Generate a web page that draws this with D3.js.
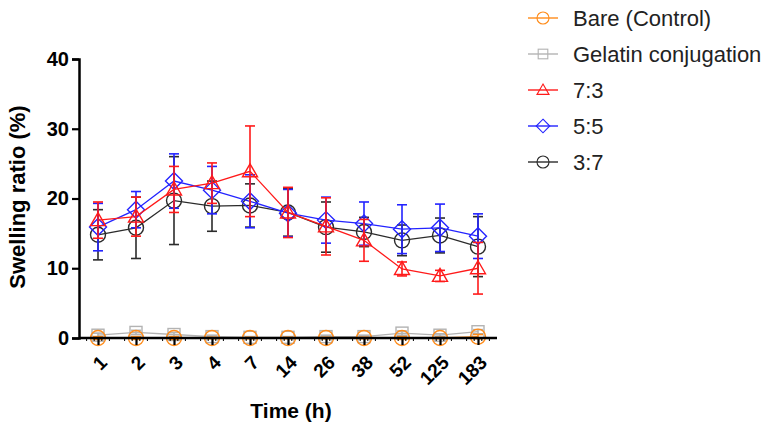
<!DOCTYPE html>
<html>
<head>
<meta charset="utf-8">
<script src="https://cdn.jsdelivr.net/npm/d3@7"></script>
<style>
body { margin: 0; background: #fff; }
svg { display: block; font-family: "Liberation Sans", Arial, sans-serif; }
</style>
</head>
<body>
<div id="chart"></div>
<script>
// data
const times = ["1", "2", "3", "4", "7", "14", "26", "38", "52", "125", "183"];
const yTicks = [0, 10, 20, 30, 40];

const bareMean = [0, 0, 0, 0, 0, 0, 0, 0, 0, 0, 0.2];
const bareErr = [0.2, 0.2, 0.2, 0.1, 0.1, 0.1, 0.1, 0.1, 0.2, 0.1, 0.3];
const gelMean = [0.4, 0.8, 0.5, 0.2, 0.1, 0.1, 0.2, 0.2, 0.7, 0.4, 0.9];
const gelErr = [0.3, 0.3, 0.3, 0.2, 0.1, 0.1, 0.2, 0.2, 0.3, 0.2, 0.3];
const r73Mean = [16.9, 17.4, 21.3, 22.2, 23.9, 18.0, 16.0, 14.0, 9.9, 8.9, 10.0];
const r73Err = [2.6, 2.8, 3.3, 2.9, 6.5, 3.6, 4.1, 3.0, 1.0, 0.8, 3.7];
const r55Mean = [15.9, 18.4, 22.5, 21.2, 19.6, 17.9, 16.9, 16.4, 15.6, 15.8, 14.6];
const r55Err = [3.4, 2.6, 3.9, 3.4, 3.8, 3.4, 3.3, 3.1, 3.5, 3.4, 3.2];
const r37Mean = [14.8, 15.8, 19.7, 18.9, 19.0, 18.0, 15.9, 15.2, 14.0, 14.7, 13.1];
const r37Err = [3.6, 4.4, 6.3, 3.6, 3.1, 3.4, 3.6, 2.1, 2.2, 2.5, 4.3];

const series = [
  { name: "3:7", mean: r37Mean, err: r37Err, color: "#2b2b2b", sym: "circle" },
  { name: "5:5", mean: r55Mean, err: r55Err, color: "#2323ff", sym: "diamond" },
  { name: "7:3", mean: r73Mean, err: r73Err, color: "#ff1a1a", sym: "triangle" },
  { name: "Gelatin conjugation", mean: gelMean, err: gelErr, color: "#b3b3b3", sym: "square" },
  { name: "Bare (Control)", mean: bareMean, err: bareErr, color: "#ff8c1a", sym: "circle" }
];
const legendOrder = ["Bare (Control)", "Gelatin conjugation", "7:3", "5:5", "3:7"];

const W = 771, H = 434;
const svg = d3.select("#chart").append("svg").attr("width", W).attr("height", H);

const x = d3.scalePoint().domain(times).range([79, 497]).padding(0.5);
const y = d3.scaleLinear().domain([0, 40]).range([338, 59]);

function symbol(g, type, color, cx, cy) {
  const s = g.append("g").attr("transform", `translate(${cx},${cy})`)
    .attr("fill", "none").attr("stroke", color).attr("stroke-width", 1.4);
  if (type === "circle") s.append("circle").attr("r", 7.5);
  else if (type === "square") s.append("rect").attr("x", -6).attr("y", -6).attr("width", 12).attr("height", 12);
  else if (type === "triangle") s.append("path").attr("d", "M0,-7.5L7.5,5.5L-7.5,5.5Z");
  else if (type === "diamond") s.append("path").attr("d", "M0,-8.5L8.5,0L0,8.5L-8.5,0Z");
  return s;
}

const plot = svg.append("g");
series.forEach(s => {
  const g = plot.append("g");
  const line = d3.line().x((d, i) => x(times[i])).y(d => y(d));
  g.append("path").datum(s.mean).attr("d", line)
    .attr("fill", "none").attr("stroke", s.color).attr("stroke-width", 1.3);
  s.mean.forEach((m, i) => {
    const cx = x(times[i]);
    const top = y(m + s.err[i]), bot = y(m - s.err[i]);
    g.append("line").attr("x1", cx).attr("x2", cx).attr("y1", top).attr("y2", bot)
      .attr("stroke", s.color).attr("stroke-width", 1.6);
    [top, bot].forEach(yy => {
      g.append("line").attr("x1", cx - 5).attr("x2", cx + 5).attr("y1", yy).attr("y2", yy)
        .attr("stroke", s.color).attr("stroke-width", 1.6);
    });
    symbol(g, s.sym, s.color, cx, y(m));
  });
});

// axes
const yAxis = svg.append("g").attr("transform", "translate(79,0)")
  .call(d3.axisLeft(y).tickValues(yTicks).tickSize(7).tickPadding(3));
yAxis.select(".domain").attr("stroke", "#000").attr("stroke-width", 2.5);
yAxis.selectAll(".tick line").attr("stroke-width", 2.2);
yAxis.selectAll("text").attr("font-size", 20).attr("font-weight", "bold").attr("fill", "#000")
  .attr("font-family", "Liberation Sans, Arial, sans-serif");

// minor ticks on x
const step = x.step();
const minor = [];
times.forEach(t => { for (let k = 1; k <= 4; k++) minor.push(x(t) - step / 2 + k * step / 5); });
svg.append("g").selectAll("line").data(minor).join("line")
  .attr("x1", d => d).attr("x2", d => d).attr("y1", 338).attr("y2", 341)
  .attr("stroke", "#000").attr("stroke-width", 1);

const xAxis = svg.append("g").attr("transform", "translate(0,338)")
  .call(d3.axisBottom(x).tickSize(7).tickSizeOuter(0));
xAxis.select(".domain").attr("stroke", "#000").attr("stroke-width", 2.5).attr("d", "M79,0H497");
xAxis.selectAll(".tick line").attr("stroke-width", 2.2);
xAxis.selectAll("text").attr("font-size", 19).attr("font-weight", "bold").attr("fill", "#000")
  .attr("font-family", "Liberation Sans, Arial, sans-serif")
  .attr("text-anchor", "end").attr("x", 0).attr("y", 0).attr("dy", "0.35em")
  .attr("transform", "translate(5,21) rotate(-45)");

svg.append("text").attr("x", 291).attr("y", 418).attr("text-anchor", "middle")
  .attr("font-size", 21).attr("font-weight", "bold").text("Time (h)");
svg.append("text").attr("transform", "translate(25,197) rotate(-90)").attr("text-anchor", "middle")
  .attr("font-size", 22).attr("font-weight", "bold").text("Swelling ratio (%)");

// legend
const legend = svg.append("g");
legendOrder.forEach((name, i) => {
  const s = series.find(d => d.name === name);
  const ly = 18 + i * 36;
  legend.append("line").attr("x1", 528).attr("x2", 558).attr("y1", ly).attr("y2", ly)
    .attr("stroke", s.color).attr("stroke-width", 1.4);
  const sym = symbol(legend, s.sym, s.color, 543, ly);
  sym.attr("transform", `translate(543,${ly}) scale(0.8)`);
  legend.append("text").attr("x", 573).attr("y", ly + 8).attr("font-size", 22)
    .attr("fill", "#222").text(name);
});
</script>
</body>
</html>
